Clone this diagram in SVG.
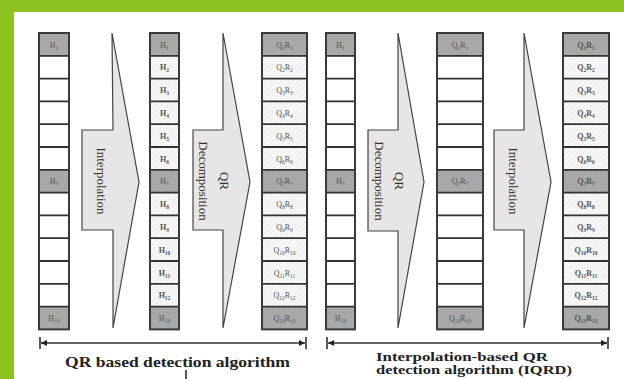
<svg xmlns="http://www.w3.org/2000/svg" width="624" height="379" viewBox="0 0 624 379">
<style>
.cell{fill:#ffffff;stroke:none}
.gray{fill:#a8a8a8}
.hat{fill:url(#hatch)}
.grid{stroke:#333;stroke-width:1.8;fill:none}
.border{fill:none;stroke:#3a3a3a;stroke-width:2}
.arrow{fill:#e6e6e6;stroke:#444;stroke-width:1.2;stroke-linejoin:miter}
.atext{font-family:"Liberation Serif",serif;font-size:13px;fill:#333}
.lb{font-family:"Liberation Serif",serif;font-size:8px;fill:#555;text-anchor:middle}
.lbb{font-family:"Liberation Serif",serif;font-size:8px;fill:#555;text-anchor:middle;font-weight:bold}
.sub{font-size:5.5px}
.dim{stroke:#333;stroke-width:1.6;fill:none}
.cap{font-family:"Liberation Serif",serif;font-weight:bold;fill:#222}
</style>
<defs>
<pattern id="hatch" width="4" height="4" patternUnits="userSpaceOnUse" patternTransform="rotate(45)">
<rect width="4" height="4" fill="#f7f7f7"/>
<line x1="0" y1="0" x2="0" y2="4" stroke="#e3e3e3" stroke-width="1"/>
</pattern>
<marker id="ah" viewBox="0 0 10 10" refX="10" refY="5" markerWidth="8" markerHeight="6" orient="auto" markerUnits="userSpaceOnUse">
<path d="M0 0L10 5L0 10z" fill="#222"/>
</marker>
</defs>

<rect x="0" y="0" width="624" height="379" fill="#ffffff"/>
<rect x="0" y="0" width="624" height="12" fill="#8cc21e"/>
<rect x="0" y="0" width="14" height="379" fill="#8cc21e"/>

<!-- Column 1: pilots -->
<g id="col1">
<rect class="cell" x="39" y="33" width="30" height="296.4"/>
<rect class="gray" x="39" y="33" width="30" height="22.8"/>
<rect class="gray" x="39" y="169.8" width="30" height="22.8"/>
<rect class="gray" x="39" y="306.6" width="30" height="22.8"/>
<path class="grid" d="M39 55.8H69M39 78.6H69M39 101.4H69M39 124.2H69M39 147H69M39 169.8H69M39 192.6H69M39 215.4H69M39 238.2H69M39 261H69M39 283.8H69M39 306.6H69"/>
<rect class="border" x="39" y="33" width="30" height="296.4"/>
<text class="lb" x="54" y="47.5">H<tspan class="sub" dy="2">1</tspan></text>
<text class="lb" x="54" y="184.3">H<tspan class="sub" dy="2">7</tspan></text>
<text class="lb" x="54" y="321.1">H<tspan class="sub" dy="2">13</tspan></text>
</g>

<!-- Arrow 1: Interpolation -->
<g id="arrow1">
<polygon class="arrow" points="82,130 113,130 112,33 139,182 113,328 113,230 82,230"/>
<text class="atext" text-anchor="middle" transform="translate(97,181) rotate(90)">Interpolation</text>
</g>

<!-- Column 2: interpolated H -->
<g id="col2">
<rect class="cell" x="150" y="33" width="29" height="296.4"/>
<rect class="hat" x="150" y="55.8" width="29" height="114"/>
<rect class="hat" x="150" y="192.6" width="29" height="114"/>
<rect class="gray" x="150" y="33" width="29" height="22.8"/>
<rect class="gray" x="150" y="169.8" width="29" height="22.8"/>
<rect class="gray" x="150" y="306.6" width="29" height="22.8"/>
<path class="grid" d="M150 55.8H179M150 78.6H179M150 101.4H179M150 124.2H179M150 147H179M150 169.8H179M150 192.6H179M150 215.4H179M150 238.2H179M150 261H179M150 283.8H179M150 306.6H179"/>
<rect class="border" x="150" y="33" width="29" height="296.4"/>
<text class="lb" x="164.5" y="47.5">H<tspan class="sub" dy="2">1</tspan></text>
<text class="lbb" x="164.5" y="70.3">H<tspan class="sub" dy="2">2</tspan></text>
<text class="lbb" x="164.5" y="93.1">H<tspan class="sub" dy="2">3</tspan></text>
<text class="lbb" x="164.5" y="115.9">H<tspan class="sub" dy="2">4</tspan></text>
<text class="lbb" x="164.5" y="138.7">H<tspan class="sub" dy="2">5</tspan></text>
<text class="lbb" x="164.5" y="161.5">H<tspan class="sub" dy="2">6</tspan></text>
<text class="lb" x="164.5" y="184.3">H<tspan class="sub" dy="2">7</tspan></text>
<text class="lbb" x="164.5" y="207.1">H<tspan class="sub" dy="2">8</tspan></text>
<text class="lbb" x="164.5" y="229.9">H<tspan class="sub" dy="2">9</tspan></text>
<text class="lbb" x="164.5" y="252.7">H<tspan class="sub" dy="2">10</tspan></text>
<text class="lbb" x="164.5" y="275.5">H<tspan class="sub" dy="2">11</tspan></text>
<text class="lbb" x="164.5" y="298.3">H<tspan class="sub" dy="2">12</tspan></text>
<text class="lb" x="164.5" y="321.1">H<tspan class="sub" dy="2">13</tspan></text>
</g>

<!-- Arrow 2: QR Decomposition -->
<g id="arrow2">
<polygon class="arrow" points="193,130 223,130 223,33 250,182 223,328 223,230 193,230"/>
<text class="atext" text-anchor="middle" transform="translate(220,181) rotate(90)">QR</text>
<text class="atext" text-anchor="middle" transform="translate(199,181) rotate(90)">Decomposition</text>
</g>

<!-- Column 3: QR of all -->
<g id="col3">
<rect class="cell" x="262" y="33" width="45" height="296.4"/>
<rect class="hat" x="262" y="55.8" width="45" height="114"/>
<rect class="hat" x="262" y="192.6" width="45" height="114"/>
<rect class="gray" x="262" y="33" width="45" height="22.8"/>
<rect class="gray" x="262" y="169.8" width="45" height="22.8"/>
<rect class="gray" x="262" y="306.6" width="45" height="22.8"/>
<path class="grid" d="M262 55.8H307M262 78.6H307M262 101.4H307M262 124.2H307M262 147H307M262 169.8H307M262 192.6H307M262 215.4H307M262 238.2H307M262 261H307M262 283.8H307M262 306.6H307"/>
<rect class="border" x="262" y="33" width="45" height="296.4"/>
<text class="lb" x="284.5" y="47.5">Q<tspan class="sub" dy="2">1</tspan><tspan dy="-2">R</tspan><tspan class="sub" dy="2">1</tspan></text>
<text class="lb" x="284.5" y="70.3">Q<tspan class="sub" dy="2">2</tspan><tspan dy="-2">R</tspan><tspan class="sub" dy="2">2</tspan></text>
<text class="lb" x="284.5" y="93.1">Q<tspan class="sub" dy="2">3</tspan><tspan dy="-2">R</tspan><tspan class="sub" dy="2">3</tspan></text>
<text class="lb" x="284.5" y="115.9">Q<tspan class="sub" dy="2">4</tspan><tspan dy="-2">R</tspan><tspan class="sub" dy="2">4</tspan></text>
<text class="lb" x="284.5" y="138.7">Q<tspan class="sub" dy="2">5</tspan><tspan dy="-2">R</tspan><tspan class="sub" dy="2">5</tspan></text>
<text class="lb" x="284.5" y="161.5">Q<tspan class="sub" dy="2">6</tspan><tspan dy="-2">R</tspan><tspan class="sub" dy="2">6</tspan></text>
<text class="lb" x="284.5" y="184.3">Q<tspan class="sub" dy="2">7</tspan><tspan dy="-2">R</tspan><tspan class="sub" dy="2">7</tspan></text>
<text class="lb" x="284.5" y="207.1">Q<tspan class="sub" dy="2">8</tspan><tspan dy="-2">R</tspan><tspan class="sub" dy="2">8</tspan></text>
<text class="lb" x="284.5" y="229.9">Q<tspan class="sub" dy="2">9</tspan><tspan dy="-2">R</tspan><tspan class="sub" dy="2">9</tspan></text>
<text class="lb" x="284.5" y="252.7">Q<tspan class="sub" dy="2">10</tspan><tspan dy="-2">R</tspan><tspan class="sub" dy="2">10</tspan></text>
<text class="lb" x="284.5" y="275.5">Q<tspan class="sub" dy="2">11</tspan><tspan dy="-2">R</tspan><tspan class="sub" dy="2">11</tspan></text>
<text class="lb" x="284.5" y="298.3">Q<tspan class="sub" dy="2">12</tspan><tspan dy="-2">R</tspan><tspan class="sub" dy="2">12</tspan></text>
<text class="lb" x="284.5" y="321.1">Q<tspan class="sub" dy="2">13</tspan><tspan dy="-2">R</tspan><tspan class="sub" dy="2">13</tspan></text>
</g>

<!-- Column 4: pilots -->
<g id="col4">
<rect class="cell" x="326" y="33" width="29" height="296.4"/>
<rect class="gray" x="326" y="33" width="29" height="22.8"/>
<rect class="gray" x="326" y="169.8" width="29" height="22.8"/>
<rect class="gray" x="326" y="306.6" width="29" height="22.8"/>
<path class="grid" d="M326 55.8H355M326 78.6H355M326 101.4H355M326 124.2H355M326 147H355M326 169.8H355M326 192.6H355M326 215.4H355M326 238.2H355M326 261H355M326 283.8H355M326 306.6H355"/>
<rect class="border" x="326" y="33" width="29" height="296.4"/>
<text class="lb" x="340.5" y="47.5">H<tspan class="sub" dy="2">1</tspan></text>
<text class="lb" x="340.5" y="184.3">H<tspan class="sub" dy="2">7</tspan></text>
<text class="lb" x="340.5" y="321.1">H<tspan class="sub" dy="2">13</tspan></text>
</g>

<!-- Arrow 3: QR Decomposition -->
<g id="arrow3">
<polygon class="arrow" points="368,130 398,130 398,33 424,182 398,328 398,231 368,231"/>
<text class="atext" text-anchor="middle" transform="translate(395,181) rotate(90)">QR</text>
<text class="atext" text-anchor="middle" transform="translate(375,181) rotate(90)">Decomposition</text>
</g>

<!-- Column 5: QR of pilots -->
<g id="col5">
<rect class="cell" x="437" y="33" width="46" height="296.4"/>
<rect class="gray" x="437" y="33" width="46" height="22.8"/>
<rect class="gray" x="437" y="169.8" width="46" height="22.8"/>
<rect class="gray" x="437" y="306.6" width="46" height="22.8"/>
<path class="grid" d="M437 55.8H483M437 78.6H483M437 101.4H483M437 124.2H483M437 147H483M437 169.8H483M437 192.6H483M437 215.4H483M437 238.2H483M437 261H483M437 283.8H483M437 306.6H483"/>
<rect class="border" x="437" y="33" width="46" height="296.4"/>
<text class="lb" x="460" y="47.5">Q<tspan class="sub" dy="2">1</tspan><tspan dy="-2">R</tspan><tspan class="sub" dy="2">1</tspan></text>
<text class="lb" x="460" y="184.3">Q<tspan class="sub" dy="2">7</tspan><tspan dy="-2">R</tspan><tspan class="sub" dy="2">7</tspan></text>
<text class="lb" x="460" y="321.1">Q<tspan class="sub" dy="2">13</tspan><tspan dy="-2">R</tspan><tspan class="sub" dy="2">13</tspan></text>
</g>

<!-- Arrow 4: Interpolation -->
<g id="arrow4">
<polygon class="arrow" points="494,130 524,130 524,33 551,182 524,328 524,230 494,230"/>
<text class="atext" text-anchor="middle" transform="translate(509,181) rotate(90)">Interpolation</text>
</g>

<!-- Column 6: interpolated QR -->
<g id="col6">
<rect class="cell" x="563" y="33" width="46" height="296.4"/>
<rect class="hat" x="563" y="55.8" width="46" height="114"/>
<rect class="hat" x="563" y="192.6" width="46" height="114"/>
<rect class="gray" x="563" y="33" width="46" height="22.8"/>
<rect class="gray" x="563" y="169.8" width="46" height="22.8"/>
<rect class="gray" x="563" y="306.6" width="46" height="22.8"/>
<path class="grid" d="M563 55.8H609M563 78.6H609M563 101.4H609M563 124.2H609M563 147H609M563 169.8H609M563 192.6H609M563 215.4H609M563 238.2H609M563 261H609M563 283.8H609M563 306.6H609"/>
<rect class="border" x="563" y="33" width="46" height="296.4"/>
<text class="lbb" x="586" y="47.5">Q<tspan class="sub" dy="2">1</tspan><tspan dy="-2">R</tspan><tspan class="sub" dy="2">1</tspan></text>
<text class="lbb" x="586" y="70.3">Q<tspan class="sub" dy="2">2</tspan><tspan dy="-2">R</tspan><tspan class="sub" dy="2">2</tspan></text>
<text class="lbb" x="586" y="93.1">Q<tspan class="sub" dy="2">3</tspan><tspan dy="-2">R</tspan><tspan class="sub" dy="2">3</tspan></text>
<text class="lbb" x="586" y="115.9">Q<tspan class="sub" dy="2">4</tspan><tspan dy="-2">R</tspan><tspan class="sub" dy="2">4</tspan></text>
<text class="lbb" x="586" y="138.7">Q<tspan class="sub" dy="2">5</tspan><tspan dy="-2">R</tspan><tspan class="sub" dy="2">5</tspan></text>
<text class="lbb" x="586" y="161.5">Q<tspan class="sub" dy="2">6</tspan><tspan dy="-2">R</tspan><tspan class="sub" dy="2">6</tspan></text>
<text class="lbb" x="586" y="184.3">Q<tspan class="sub" dy="2">7</tspan><tspan dy="-2">R</tspan><tspan class="sub" dy="2">7</tspan></text>
<text class="lbb" x="586" y="207.1">Q<tspan class="sub" dy="2">8</tspan><tspan dy="-2">R</tspan><tspan class="sub" dy="2">8</tspan></text>
<text class="lbb" x="586" y="229.9">Q<tspan class="sub" dy="2">9</tspan><tspan dy="-2">R</tspan><tspan class="sub" dy="2">9</tspan></text>
<text class="lbb" x="586" y="252.7">Q<tspan class="sub" dy="2">10</tspan><tspan dy="-2">R</tspan><tspan class="sub" dy="2">10</tspan></text>
<text class="lbb" x="586" y="275.5">Q<tspan class="sub" dy="2">11</tspan><tspan dy="-2">R</tspan><tspan class="sub" dy="2">11</tspan></text>
<text class="lbb" x="586" y="298.3">Q<tspan class="sub" dy="2">12</tspan><tspan dy="-2">R</tspan><tspan class="sub" dy="2">12</tspan></text>
<text class="lbb" x="586" y="321.1">Q<tspan class="sub" dy="2">13</tspan><tspan dy="-2">R</tspan><tspan class="sub" dy="2">13</tspan></text>
</g>

<!-- Dimension lines -->
<g id="connectors">
<path class="dim" d="M40 337V349M306 337V349M327 337V349M608 337V349"/>
<line class="dim" x1="173" y1="343" x2="41" y2="343" marker-end="url(#ah)"/>
<line class="dim" x1="173" y1="343" x2="305" y2="343" marker-end="url(#ah)"/>
<line class="dim" x1="467" y1="343" x2="328" y2="343" marker-end="url(#ah)"/>
<line class="dim" x1="467" y1="343" x2="607" y2="343" marker-end="url(#ah)"/>
<line class="dim" x1="186" y1="370" x2="186" y2="379" stroke-width="1"/>
</g>

<g id="labels">
<text class="cap" x="177.5" y="367" font-size="14" text-anchor="middle" textLength="225" lengthAdjust="spacingAndGlyphs">QR based detection algorithm</text>
<text class="cap" x="376" y="360.5" font-size="12" textLength="172" lengthAdjust="spacingAndGlyphs">Interpolation-based QR</text>
<text class="cap" x="376" y="373.5" font-size="12" textLength="196" lengthAdjust="spacingAndGlyphs">detection algorithm (IQRD)</text>
</g>
</svg>
